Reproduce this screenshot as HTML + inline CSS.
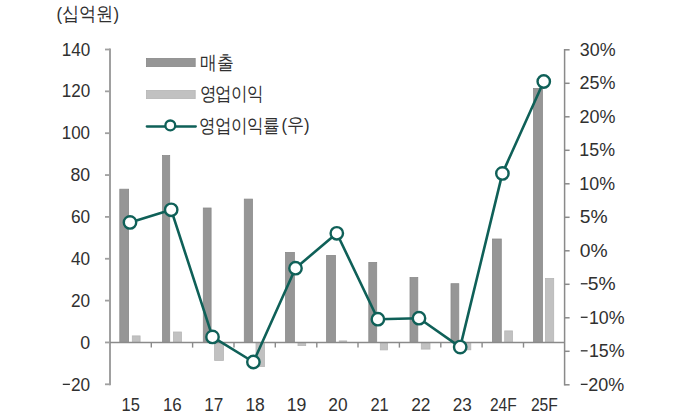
<!DOCTYPE html>
<html><head><meta charset="utf-8"><style>
html,body{margin:0;padding:0;background:#fff;}
body{width:680px;height:419px;overflow:hidden;}
svg{display:block;}
text{font-family:"Liberation Sans",sans-serif;fill:#303030;}
</style></head><body>
<svg width="680" height="419" viewBox="0 0 680 419">
<rect width="680" height="419" fill="#fff"/>
<rect x="119.80" y="189.20" width="8.80" height="153.25" fill="#969696" stroke="#8a8a8a" stroke-width="0.8"/>
<rect x="162.50" y="155.50" width="7.20" height="186.95" fill="#969696" stroke="#8a8a8a" stroke-width="0.8"/>
<rect x="203.30" y="208.00" width="7.80" height="134.45" fill="#969696" stroke="#8a8a8a" stroke-width="0.8"/>
<rect x="244.30" y="199.10" width="8.20" height="143.35" fill="#969696" stroke="#8a8a8a" stroke-width="0.8"/>
<rect x="285.50" y="252.40" width="8.90" height="90.05" fill="#969696" stroke="#8a8a8a" stroke-width="0.8"/>
<rect x="326.60" y="255.40" width="8.90" height="87.05" fill="#969696" stroke="#8a8a8a" stroke-width="0.8"/>
<rect x="368.80" y="262.40" width="7.90" height="80.05" fill="#969696" stroke="#8a8a8a" stroke-width="0.8"/>
<rect x="410.00" y="277.50" width="7.80" height="64.95" fill="#969696" stroke="#8a8a8a" stroke-width="0.8"/>
<rect x="451.00" y="283.70" width="7.80" height="58.75" fill="#969696" stroke="#8a8a8a" stroke-width="0.8"/>
<rect x="492.40" y="239.00" width="8.90" height="103.45" fill="#969696" stroke="#8a8a8a" stroke-width="0.8"/>
<rect x="533.50" y="88.40" width="9.00" height="254.05" fill="#969696" stroke="#8a8a8a" stroke-width="0.8"/>
<rect x="132.30" y="335.90" width="7.80" height="6.55" fill="#c1c1c1" stroke="#b6b6b6" stroke-width="0.8"/>
<rect x="173.50" y="332.00" width="7.90" height="10.45" fill="#c1c1c1" stroke="#b6b6b6" stroke-width="0.8"/>
<rect x="214.60" y="342.45" width="8.90" height="17.95" fill="#c1c1c1" stroke="#b6b6b6" stroke-width="0.8"/>
<rect x="256.00" y="342.45" width="8.40" height="24.15" fill="#c1c1c1" stroke="#b6b6b6" stroke-width="0.8"/>
<rect x="298.00" y="342.45" width="7.70" height="3.15" fill="#c1c1c1" stroke="#b6b6b6" stroke-width="0.8"/>
<rect x="339.20" y="340.90" width="7.50" height="1.55" fill="#c1c1c1" stroke="#b6b6b6" stroke-width="0.8"/>
<rect x="380.30" y="342.45" width="7.20" height="7.45" fill="#c1c1c1" stroke="#b6b6b6" stroke-width="0.8"/>
<rect x="421.30" y="342.45" width="8.70" height="6.65" fill="#c1c1c1" stroke="#b6b6b6" stroke-width="0.8"/>
<rect x="462.70" y="342.45" width="8.10" height="7.35" fill="#c1c1c1" stroke="#b6b6b6" stroke-width="0.8"/>
<rect x="504.70" y="330.90" width="7.80" height="11.55" fill="#c1c1c1" stroke="#b6b6b6" stroke-width="0.8"/>
<rect x="545.50" y="278.40" width="8.20" height="64.05" fill="#c1c1c1" stroke="#b6b6b6" stroke-width="0.8"/>
<line x1="110.0" y1="48.60" x2="110.0" y2="385.20" stroke="#a0a0a0" stroke-width="2"/>
<line x1="564.6" y1="49.00" x2="564.6" y2="385.60" stroke="#8a8a8a" stroke-width="1.5"/>
<line x1="110.0" y1="342.45" x2="564.6" y2="342.45" stroke="#8a8a8a" stroke-width="1.4"/>
<line x1="105" y1="49.50" x2="110.0" y2="49.50" stroke="#a0a0a0" stroke-width="1.8"/>
<line x1="105" y1="91.35" x2="110.0" y2="91.35" stroke="#a0a0a0" stroke-width="1.8"/>
<line x1="105" y1="133.20" x2="110.0" y2="133.20" stroke="#a0a0a0" stroke-width="1.8"/>
<line x1="105" y1="175.05" x2="110.0" y2="175.05" stroke="#a0a0a0" stroke-width="1.8"/>
<line x1="105" y1="216.90" x2="110.0" y2="216.90" stroke="#a0a0a0" stroke-width="1.8"/>
<line x1="105" y1="258.75" x2="110.0" y2="258.75" stroke="#a0a0a0" stroke-width="1.8"/>
<line x1="105" y1="300.60" x2="110.0" y2="300.60" stroke="#a0a0a0" stroke-width="1.8"/>
<line x1="105" y1="342.45" x2="110.0" y2="342.45" stroke="#a0a0a0" stroke-width="1.8"/>
<line x1="105" y1="384.30" x2="110.0" y2="384.30" stroke="#a0a0a0" stroke-width="1.8"/>
<line x1="564.6" y1="49.80" x2="569.6" y2="49.80" stroke="#8a8a8a" stroke-width="1.5"/>
<line x1="564.6" y1="83.30" x2="569.6" y2="83.30" stroke="#8a8a8a" stroke-width="1.5"/>
<line x1="564.6" y1="116.80" x2="569.6" y2="116.80" stroke="#8a8a8a" stroke-width="1.5"/>
<line x1="564.6" y1="150.30" x2="569.6" y2="150.30" stroke="#8a8a8a" stroke-width="1.5"/>
<line x1="564.6" y1="183.80" x2="569.6" y2="183.80" stroke="#8a8a8a" stroke-width="1.5"/>
<line x1="564.6" y1="217.30" x2="569.6" y2="217.30" stroke="#8a8a8a" stroke-width="1.5"/>
<line x1="564.6" y1="250.80" x2="569.6" y2="250.80" stroke="#8a8a8a" stroke-width="1.5"/>
<line x1="564.6" y1="284.30" x2="569.6" y2="284.30" stroke="#8a8a8a" stroke-width="1.5"/>
<line x1="564.6" y1="317.80" x2="569.6" y2="317.80" stroke="#8a8a8a" stroke-width="1.5"/>
<line x1="564.6" y1="351.30" x2="569.6" y2="351.30" stroke="#8a8a8a" stroke-width="1.5"/>
<line x1="564.6" y1="384.80" x2="569.6" y2="384.80" stroke="#8a8a8a" stroke-width="1.5"/>
<line x1="151.3" y1="342.45" x2="151.3" y2="347.6" stroke="#8a8a8a" stroke-width="1.4"/>
<line x1="192.6" y1="342.45" x2="192.6" y2="347.6" stroke="#8a8a8a" stroke-width="1.4"/>
<line x1="234.0" y1="342.45" x2="234.0" y2="347.6" stroke="#8a8a8a" stroke-width="1.4"/>
<line x1="275.3" y1="342.45" x2="275.3" y2="347.6" stroke="#8a8a8a" stroke-width="1.4"/>
<line x1="316.8" y1="342.45" x2="316.8" y2="347.6" stroke="#8a8a8a" stroke-width="1.4"/>
<line x1="358.0" y1="342.45" x2="358.0" y2="347.6" stroke="#8a8a8a" stroke-width="1.4"/>
<line x1="399.4" y1="342.45" x2="399.4" y2="347.6" stroke="#8a8a8a" stroke-width="1.4"/>
<line x1="440.8" y1="342.45" x2="440.8" y2="347.6" stroke="#8a8a8a" stroke-width="1.4"/>
<line x1="482.1" y1="342.45" x2="482.1" y2="347.6" stroke="#8a8a8a" stroke-width="1.4"/>
<line x1="523.5" y1="342.45" x2="523.5" y2="347.6" stroke="#8a8a8a" stroke-width="1.4"/>
<polyline points="130,222.4 171.2,209.8 212.5,336.9 253.4,362 295.5,268.2 336.8,233.3 377.9,319.2 419,318.2 460.2,347.1 502.4,173.4 543.75,81.5" fill="none" stroke="#0f6058" stroke-width="2.6" stroke-linejoin="round"/>
<circle cx="130" cy="222.4" r="6.2" fill="#fff" stroke="#0f6058" stroke-width="2.4"/>
<circle cx="171.2" cy="209.8" r="6.2" fill="#fff" stroke="#0f6058" stroke-width="2.4"/>
<circle cx="212.5" cy="336.9" r="6.2" fill="#fff" stroke="#0f6058" stroke-width="2.4"/>
<circle cx="253.4" cy="362" r="6.2" fill="#fff" stroke="#0f6058" stroke-width="2.4"/>
<circle cx="295.5" cy="268.2" r="6.2" fill="#fff" stroke="#0f6058" stroke-width="2.4"/>
<circle cx="336.8" cy="233.3" r="6.2" fill="#fff" stroke="#0f6058" stroke-width="2.4"/>
<circle cx="377.9" cy="319.2" r="6.2" fill="#fff" stroke="#0f6058" stroke-width="2.4"/>
<circle cx="419" cy="318.2" r="6.2" fill="#fff" stroke="#0f6058" stroke-width="2.4"/>
<circle cx="460.2" cy="347.1" r="6.2" fill="#fff" stroke="#0f6058" stroke-width="2.4"/>
<circle cx="502.4" cy="173.4" r="6.2" fill="#fff" stroke="#0f6058" stroke-width="2.4"/>
<circle cx="543.75" cy="81.5" r="6.2" fill="#fff" stroke="#0f6058" stroke-width="2.4"/>
<rect x="146.4" y="58.4" width="48.8" height="8.2" fill="#969696" stroke="#8a8a8a" stroke-width="0.8"/>
<rect x="146.4" y="90.4" width="48.8" height="8.2" fill="#c1c1c1" stroke="#b6b6b6" stroke-width="0.8"/>
<line x1="146.8" y1="126.5" x2="195.8" y2="126.5" stroke="#0f6058" stroke-width="2.3" stroke-linecap="round"/>
<circle cx="170.3" cy="125.4" r="4.9" fill="#fff" stroke="#0f6058" stroke-width="2.3"/>
<text transform="translate(61.75,55.50) scale(0.8949,1)" font-size="19.1">140</text>
<text transform="translate(61.75,96.95) scale(0.8949,1)" font-size="19.1">120</text>
<text transform="translate(61.75,138.90) scale(0.8881,1)" font-size="19.1">100</text>
<text transform="translate(70.50,181.10) scale(0.9266,1)" font-size="19.1">80</text>
<text transform="translate(71.00,223.40) scale(0.9026,1)" font-size="19.1">60</text>
<text transform="translate(71.00,265.20) scale(0.9000,1)" font-size="19.1">40</text>
<text transform="translate(71.00,307.20) scale(0.9026,1)" font-size="19.1">20</text>
<text transform="translate(80.25,349.40) scale(0.9333,1)" font-size="19.1">0</text>
<text transform="translate(71.00,390.85) scale(0.9026,1)" font-size="19.1">20</text>
<text transform="translate(579.85,55.55) scale(0.9361,1)" font-size="19.1">30%</text>
<text transform="translate(579.60,89.08) scale(0.9425,1)" font-size="19.1">25%</text>
<text transform="translate(579.60,122.61) scale(0.9425,1)" font-size="19.1">20%</text>
<text transform="translate(579.35,156.14) scale(0.9333,1)" font-size="19.1">15%</text>
<text transform="translate(579.35,189.67) scale(0.9333,1)" font-size="19.1">10%</text>
<text transform="translate(579.85,223.20) scale(1.0095,1)" font-size="19.1">5%</text>
<text transform="translate(579.85,256.73) scale(1.0095,1)" font-size="19.1">0%</text>
<text transform="translate(587.85,290.26) scale(1.0095,1)" font-size="19.1">5%</text>
<text transform="translate(588.95,323.79) scale(0.9333,1)" font-size="19.1">10%</text>
<text transform="translate(588.95,357.32) scale(0.9333,1)" font-size="19.1">15%</text>
<text transform="translate(588.30,390.85) scale(0.9425,1)" font-size="19.1">20%</text>
<text transform="translate(121.50,410.68) scale(0.8632,1)" font-size="19.1">15</text>
<text transform="translate(162.93,410.80) scale(0.8895,1)" font-size="19.1">16</text>
<text transform="translate(204.25,410.80) scale(0.9013,1)" font-size="19.1">17</text>
<text transform="translate(245.40,410.80) scale(0.9158,1)" font-size="19.1">18</text>
<text transform="translate(286.68,410.80) scale(0.9280,1)" font-size="19.1">19</text>
<text transform="translate(328.30,410.80) scale(0.9077,1)" font-size="19.1">20</text>
<text transform="translate(370.38,410.93) scale(0.8623,1)" font-size="19.1">21</text>
<text transform="translate(411.15,410.93) scale(0.9091,1)" font-size="19.1">22</text>
<text transform="translate(452.70,410.80) scale(0.8974,1)" font-size="19.1">23</text>
<text transform="translate(489.93,410.93) scale(0.8128,1)" font-size="19.1">24F</text>
<text transform="translate(530.90,410.80) scale(0.8192,1)" font-size="19.1">25F</text>
<text transform="translate(56.60,20.30) scale(0.9045,1)" font-size="18.6">(십억원)</text>
<text transform="translate(200.00,68.53) scale(0.8857,1)" font-size="18.6">매출</text>
<text transform="translate(199.50,99.50) scale(0.8730,1)" font-size="18.6">영업이익</text>
<text transform="translate(199.40,131.80) scale(0.8721,1)" font-size="18.6">영업이익률</text>
<text transform="translate(281.40,131.28) scale(0.8966,1)" font-size="18.6">(우)</text>
<rect x="580.8" y="283.11" width="6.80" height="1.3" fill="#303030"/>
<rect x="580.8" y="316.64" width="6.80" height="1.3" fill="#303030"/>
<rect x="580.8" y="350.17" width="6.80" height="1.3" fill="#303030"/>
<rect x="580.8" y="383.70" width="6.80" height="1.3" fill="#303030"/>
<rect x="62.8" y="383.70" width="7.10" height="1.3" fill="#303030"/>
</svg>
</body></html>
